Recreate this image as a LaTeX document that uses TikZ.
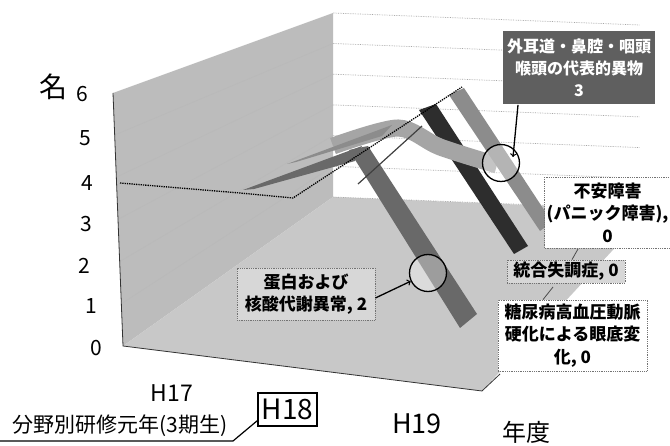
\documentclass[tikz,border=0pt]{standalone}
\usepackage{fontspec}
\newfontfamily\jpfont{Noto Sans CJK JP}
\usetikzlibrary{arrows,calc}
\definecolor{wallgray}{RGB}{188,188,188}
\definecolor{floorgray}{RGB}{200,200,200}
\definecolor{ribdark}{RGB}{105,105,105}
\definecolor{ribblack}{RGB}{45,45,45}
\definecolor{ribmid}{RGB}{140,140,140}
\definecolor{riblight}{RGB}{165,165,165}
\definecolor{boxgray}{RGB}{215,215,215}
\definecolor{boxdark}{RGB}{95,95,95}

\begin{document}
\begin{tikzpicture}[x=1pt,y=-1pt]

\tikzstyle{tick} = [inner sep=0, font=\jpfont\fontsize{21}{21}\selectfont]
\tikzstyle{gridline} = [gray!70, densely dotted, line width=0.7]
\tikzstyle{wallline} = [gray!55, line width=0.6]
\tikzstyle{callout} = [draw=black!55, densely dotted, line width=0.8,
    align=center, inner sep=2,
    font=\jpfont\bfseries\fontsize{17}{22.5}\selectfont]
\tikzstyle{marker} = [circle, draw=black, line width=1.3, fill=white,
    fill opacity=0.35, minimum size=37, inner sep=0]
\tikzstyle{leader} = [black!70, line width=0.8]

\useasboundingbox (0,0) rectangle (670,446);
\fill[white] (0,0) rectangle (670,446);

% =========================
% walls and floor
% =========================
\fill[wallgray] (113,93) -- (333,13) -- (333,197) -- (123,346) -- cycle;
\fill[floorgray] (123,346) -- (482,391) -- (650,210) -- (333,197) -- cycle;

% side wall gridlines
\draw[wallline] (121.3,303.8) -- (333,166.3);
\draw[wallline] (119.7,261.6) -- (333,135.6);
\draw[wallline] (118,219.4) -- (333,104.9);
\draw[wallline] (116.3,177.2) -- (333,74.2);
\draw[wallline] (114.7,135) -- (333,43.5);

% back wall gridlines
\draw[gridline] (333,13) -- (640,25);
\draw[gridline] (333,43.5) -- (640,55.5);
\draw[gridline] (333,74.2) -- (640,86.2);
\draw[gridline] (333,104.9) -- (640,116.9);
\draw[gridline] (333,135.6) -- (640,147.6);
\draw[gridline] (333,166.3) -- (640,178.3);
\draw[gridline] (333,197) -- (640,209);

% edges
\draw[black!80, line width=0.8] (113,93) -- (123,346) -- (482,391) -- (500,374);

% =========================
% ribbons
% =========================
\fill[ribdark] (349,150) -- (368,146) -- (477,314) -- (460,328) -- cycle;
\fill[ribblack] (419,110) -- (436,104) -- (528,246) -- (514,254) -- cycle;
\draw[riblight, line width=17] plot[smooth] coordinates {(333,146) (398,128) (440,147) (497,165)};
\fill[ribmid] (449,95) -- (464,88) -- (552,222) -- (540,231) -- cycle;
\fill[ribmid] (287,164) -- (392,125) -- (382,136) -- (296,162) -- cycle;
\fill[ribdark] (243,190) -- (362,146) -- (355,161) -- (254,189) -- cycle;

\draw[black, densely dotted, line width=1.3] (120,183) -- (240,193) -- (293,198) -- (462,87);
\draw[black!75, line width=1.2] (358,184) -- (422,126);

% markers
\node[marker] (c1) at (428,273) {};
\node[marker] (c2) at (501,163) {};
\coordinate (c2-tip) at (513,157);

% =========================
% axis labels
% =========================
\node[inner sep=0, font=\jpfont\fontsize{28}{28}\selectfont] (ylab) at (53,87) {名};
\node[tick] (t6) at (82,94) {6};
\node[tick] (t5) at (85,138) {5};
\node[tick] (t4) at (87,183) {4};
\node[tick] (t3) at (86,224) {3};
\node[tick] (t2) at (84,266) {2};
\node[tick] (t1) at (91,306) {1};
\node[tick] (t0) at (96,348) {0};

\node[inner sep=0, font=\jpfont\fontsize{23}{23}\selectfont] (h17) at (172,393) {H17};
\node[draw, line width=1.2, minimum width=59, minimum height=33, inner sep=0,
    font=\jpfont\fontsize{28}{28}\selectfont] (h18) at (287.5,409.5) {H18};
\node[inner sep=0, font=\jpfont\fontsize{27}{27}\selectfont] (h19) at (417,424) {H19};
\node[inner sep=0, font=\jpfont\fontsize{24}{24}\selectfont] (nendo) at (526,432) {年度};
\node[inner sep=0, font=\jpfont\fontsize{21}{21}\selectfont] (gannen) at (120,426) {分野別研修元年(3期生)};

\coordinate (ul-start) at (0,441);
\coordinate (ul-bend) at (233,441);
\draw[line width=1.2] (ul-start) -- (ul-bend) -- ([yshift=6pt]h18.south west);

% =========================
% data labels
% =========================
\node[callout, fill=boxgray, minimum width=138, minimum height=52] (tanpaku) at (306,294)
    {蛋白および\\核酸代謝異常, 2};
\node[callout, draw=none, fill=boxdark, text=white, minimum width=152, minimum height=73,
    font=\jpfont\bfseries\fontsize{16}{22}\selectfont] (ibutsu) at (579,68)
    {外耳道・鼻腔・咽頭\\喉頭の代表的異物\\3};
\node[callout, fill=white, minimum width=125, minimum height=71] (fuan) at (607.5,212.5)
    {不安障害\\(パニック障害),\\0};
\node[callout, fill=boxgray, minimum width=118, minimum height=23, inner sep=1] (tougou) at (566,271.5)
    {統合失調症, 0};
\node[callout, fill=white, minimum width=149, minimum height=71] (tounyou) at (572.5,335.5)
    {糖尿病高血圧動脈\\硬化による眼底変\\化, 0};

% leaders and arrows
\coordinate (tougou-pt) at (578,249);
\coordinate (tounyou-pt) at (553,287);
\draw[leader] ([xshift=6pt]tougou.north) -- (tougou-pt);
\draw[leader] ([xshift=-29.5pt]tounyou.north) -- (tounyou-pt);

\draw[->, line width=1.3] ([yshift=-4pt]tanpaku.east) -- (c1);
\draw[->, line width=1.3] ([xshift=-61pt]ibutsu.south) -- (c2-tip);

\end{tikzpicture}
\end{document}
